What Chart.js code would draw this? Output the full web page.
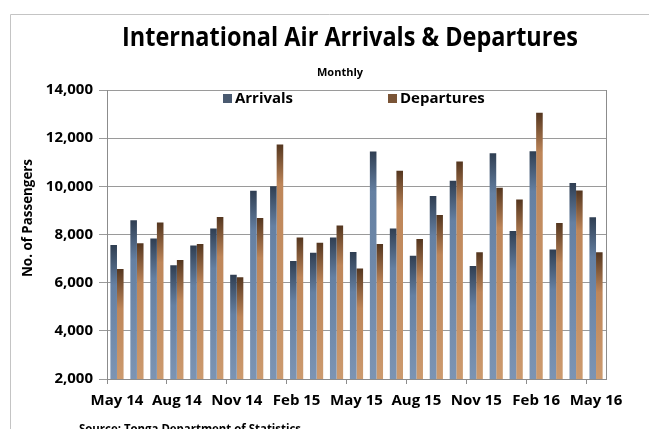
<!DOCTYPE html>
<html>
<head>
<meta charset="utf-8">
<script src="https://cdn.jsdelivr.net/npm/chart.js@4.4.1/dist/chart.umd.min.js"></script>
<style>
    html, body { margin: 0; padding: 0; background: #fff; }
    #wrap { width: 649px; height: 429px; }
</style>
</head>
<body>
<div id="wrap"><canvas id="chart1" width="649" height="429"></canvas></div>
<script>
// datos mensuales (lectura aproximada del grafico)
var meses = ['May 14', 'Jun 14', 'Jul 14', 'Aug 14', 'Sep 14', 'Oct 14', 'Nov 14', 'Dec 14',
    'Jan 15', 'Feb 15', 'Mar 15', 'Apr 15', 'May 15', 'Jun 15', 'Jul 15', 'Aug 15', 'Sep 15',
    'Oct 15', 'Nov 15', 'Dec 15', 'Jan 16', 'Feb 16', 'Mar 16', 'Apr 16', 'May 16'];
var llegadas = [7560, 8590, 7830, 6720, 7540, 8250, 6330, 9820, 10000, 6900, 7240, 7880, 7270,
    11450, 8250, 7120, 9600, 10230, 6690, 11370, 8150, 11460, 7380, 10140, 8720];
var salidas = [6570, 7640, 8500, 6940, 7610, 8730, 6230, 8680, 11740, 7880, 7660, 8370, 6590,
    7610, 10650, 7810, 8810, 11030, 7260, 9940, 9450, 13060, 8480, 9830, 7260];
var ticksY = [2000, 4000, 6000, 8000, 10000, 12000, 14000];

var fuente = '"Open Sans", "DejaVu Sans", sans-serif';

function degradado(oscuro, medio, claro) {
    return function (ctx) {
        var chart = ctx.chart;
        if (!chart.chartArea || ctx.type !== 'data' || !chart.scales.y) return medio;
        var top = chart.scales.y.getPixelForValue(ctx.raw);
        var bottom = chart.chartArea.bottom;
        if (!(bottom > top)) return medio;
        var g = chart.ctx.createLinearGradient(0, top, 0, bottom);
        var t = Math.min(1, 40 / (bottom - top));
        g.addColorStop(0, oscuro);
        g.addColorStop(t, medio);
        g.addColorStop(1, claro);
        return g;
    };
}

// titulos, leyenda y marco dibujados a mano
const textos = {
    id: 'textos',
    afterDraw: function (chart) {
        var c = chart.ctx;
        c.save();
        c.strokeStyle = '#c4c4c4';
        c.lineWidth = 1;
        c.beginPath();
        c.moveTo(10.5, 429);
        c.lineTo(10.5, 14.5);
        c.lineTo(649, 14.5);
        c.stroke();

        c.fillStyle = '#000';
        c.textAlign = 'center';
        c.textBaseline = 'alphabetic';
        c.font = 'bold 27px ' + fuente;
        c.fillText('International Air Arrivals & Departures', 350, 46, 456);
        c.font = 'bold 11px ' + fuente;
        c.fillText('Monthly', 340, 76, 50);

        c.save();
        c.translate(28, 218);
        c.rotate(-Math.PI / 2);
        c.textBaseline = 'middle';
        c.font = 'bold 15px ' + fuente;
        c.fillText('No. of Passengers', 0, 0, 118);
        c.restore();

        c.textAlign = 'left';
        c.textBaseline = 'middle';
        c.font = 'bold 15px ' + fuente;
        c.fillStyle = '#4a5a70';
        c.fillRect(223, 94, 9, 9);
        c.fillStyle = '#000';
        c.fillText('Arrivals', 235, 99, 58);
        c.fillStyle = '#7a5436';
        c.fillRect(388, 94, 9, 9);
        c.fillStyle = '#000';
        c.fillText('Departures', 400, 99, 88);

        c.font = 'bold 12px ' + fuente;
        c.textBaseline = 'alphabetic';
        c.fillText('Source: Tonga Department of Statistics', 79, 433, 222);
        c.restore();
    }
};

const dat = {
    labels: meses,
    datasets: [{
        label: 'Arrivals',
        data: llegadas,
        backgroundColor: degradado('#2f3e52', '#6580a2', '#7c94b3'),
        borderWidth: 0,
        barPercentage: 1.0,
        categoryPercentage: 0.66
    }, {
        label: 'Departures',
        data: salidas,
        backgroundColor: degradado('#54361f', '#be8659', '#cc9a6e'),
        borderWidth: 0,
        barPercentage: 1.0,
        categoryPercentage: 0.66
    }]
};

const config = {
    type: 'bar',
    data: dat,
    options: {
        responsive: false,
        animation: false,
        devicePixelRatio: 1,
        layout: { padding: { left: 0, right: 43, top: 90, bottom: 0 } },
        plugins: {
            legend: { display: false },
            tooltip: { enabled: false }
        },
        scales: {
            x: {
                offset: true,
                afterFit: function (s) { s.height = 50; },
                border: { display: true, color: '#8c8c8c', width: 1 },
                grid: {
                    offset: true,
                    drawOnChartArea: false,
                    tickLength: 5,
                    color: function (ctx) { return ctx.index % 3 === 0 ? '#8c8c8c' : 'rgba(0,0,0,0)'; }
                },
                ticks: {
                    autoSkip: false,
                    maxRotation: 0,
                    padding: 8,
                    color: '#000',
                    font: { family: fuente, size: 15, weight: 'bold' },
                    callback: function (v, i) { return i % 3 === 0 ? meses[i] : ''; }
                }
            },
            y: {
                min: 2000,
                max: 14000,
                afterFit: function (s) { s.width = 107; },
                afterBuildTicks: function (s) {
                    s.ticks = ticksY.map(function (v) { return { value: v }; });
                },
                border: { display: true, color: '#8c8c8c', width: 1 },
                grid: { color: '#9a9a9a', tickLength: 8 },
                ticks: {
                    padding: 6,
                    color: '#000',
                    font: { family: fuente, size: 15, weight: 'bold' },
                    callback: function (v) { return v.toLocaleString('en-US'); }
                }
            }
        }
    },
    plugins: [textos, {
        id: 'bordeDerecho',
        afterDatasetsDraw: function (chart) {
            var a = chart.chartArea, c = chart.ctx;
            c.save();
            c.strokeStyle = '#8c8c8c';
            c.lineWidth = 1;
            c.beginPath();
            c.moveTo(Math.round(a.right) + 0.5, a.top);
            c.lineTo(Math.round(a.right) + 0.5, a.bottom);
            c.stroke();
            c.restore();
        }
    }]
};

const myChart = new Chart(document.getElementById('chart1'), config);
</script>
</body>
</html>
